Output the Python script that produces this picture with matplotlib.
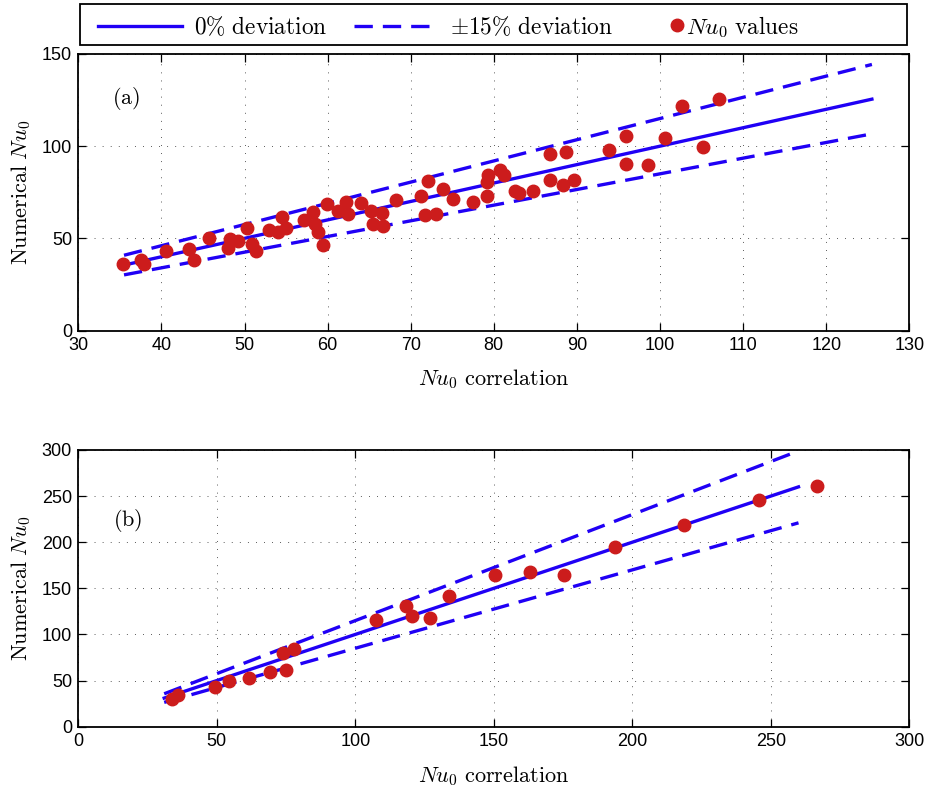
import numpy as np
import matplotlib
matplotlib.use("Agg")
import matplotlib.pyplot as plt
from matplotlib.lines import Line2D
from matplotlib.patches import Rectangle

# panel (a) data: Nu0 correlation vs numerical Nu0
corr_a = [35.4, 37.6, 37.9, 40.5, 43.3, 43.9, 45.7, 48.3, 48.0, 49.2,
          50.3, 50.9, 51.4, 52.9, 54.0, 54.5, 55.0, 57.1, 58.3, 58.5,
          58.8, 59.5, 59.9, 61.2, 62.2, 62.4, 64.0, 65.2, 66.5, 65.5,
          66.7, 68.2, 71.2, 72.1, 71.7, 73.1, 73.9, 75.1, 77.5, 79.2,
          79.3, 79.2, 80.8, 81.2, 82.6, 83.0, 84.7, 86.8, 86.8, 88.3,
          88.7, 89.6, 93.9, 95.9, 95.9, 98.5, 100.6, 102.6, 105.2, 107.1]
num_a = [35.9, 38.0, 35.9, 42.9, 44.4, 38.4, 50.4, 49.5, 44.7, 48.4,
         55.6, 47.1, 43.3, 54.7, 53.6, 61.4, 55.6, 60.2, 64.3, 58.0,
         53.6, 46.6, 68.9, 65.1, 69.6, 63.4, 69.2, 65.1, 64.0, 57.8,
         56.7, 70.8, 73.2, 81.1, 62.5, 63.2, 76.8, 71.6, 69.9, 72.7,
         84.2, 80.6, 87.1, 84.4, 75.5, 74.8, 75.7, 95.5, 81.7, 79.0,
         96.6, 81.5, 98.0, 105.4, 90.2, 89.7, 104.5, 121.7, 99.3, 125.5]

# panel (b) data
corr_b = [33.9, 35.9, 49.2, 54.5, 61.7, 69.1, 75.0, 73.8, 77.8, 107.4,
          118.2, 120.5, 126.9, 133.8, 150.3, 163.2, 175.5, 193.6, 218.6,
          245.9, 266.5]
num_b = [30.4, 34.8, 43.0, 49.5, 53.2, 59.3, 61.9, 79.6, 84.3, 115.4,
         130.6, 120.1, 117.9, 141.8, 164.6, 167.5, 164.6, 194.3, 218.2,
         245.3, 260.5]

line_range_a = [35.5, 125.5]
line_range_b = [31.0, 260.0]
deviation = 0.15

plt.rcParams['mathtext.fontset'] = 'cm'
plt.rcParams['font.family'] = 'Liberation Sans'

blue = '#2000f5'
red = '#cc1c1c'
dash = (5.5, 3.0)
lw = 2.4
ms = 9

fig = plt.figure(figsize=(9.29, 7.86), dpi=100)
ax_a = fig.add_axes([0.0843, 0.5795, 0.8945, 0.3518])
ax_b = fig.add_axes([0.0843, 0.0755, 0.8945, 0.3520])


def draw_panel(ax, corr, num, rng):
    xs = np.array(rng)
    ax.plot(xs, xs, color=blue, lw=lw)
    ax.plot(xs, xs * (1 + deviation), color=blue, lw=lw, dashes=dash)
    ax.plot(xs, xs * (1 - deviation), color=blue, lw=lw, dashes=dash)
    ax.plot(corr, num, 'o', color=red, ms=ms, mec=red)
    ax.grid(True, color='#333333', linestyle=(0, (0.8, 7.5)), lw=0.7)
    ax.tick_params(direction='in', top=True, right=True, labelsize=13,
                   length=6, width=0.9, pad=4.5)
    for s in ax.spines.values():
        s.set_linewidth(1.3)
    ax.set_xlabel(r'$Nu_0\ \mathrm{correlation}$', fontsize=16, labelpad=10)
    ax.set_ylabel(r'$\mathrm{Numerical}\ Nu_0$', fontsize=16, labelpad=6)


draw_panel(ax_a, corr_a, num_a, line_range_a)
ax_a.set_xlim(30, 130)
ax_a.set_ylim(0, 150)
ax_a.set_xticks(np.arange(30, 131, 10))
ax_a.set_yticks([0, 50, 100, 150])
ax_a.text(35.7, 126, r'$\mathrm{(a)}$', fontsize=16, ha='center', va='center')

draw_panel(ax_b, corr_b, num_b, line_range_b)
ax_b.set_xlim(0, 300)
ax_b.set_ylim(0, 300)
ax_b.set_xticks(np.arange(0, 301, 50))
ax_b.set_yticks(np.arange(0, 301, 50))
ax_b.text(18, 224, r'$\mathrm{(b)}$', fontsize=16, ha='center', va='center')

# legend box on top of the figure
fig.add_artist(Rectangle((80 / 929, 1 - 45 / 786), 827 / 929, 41 / 786,
                         transform=fig.transFigure, fill=False,
                         edgecolor='black', lw=1.3))
yc = 1 - 27 / 786
h_solid = Line2D([], [], color=blue, lw=lw)
h_dash = Line2D([], [], color=blue, lw=lw, dashes=dash)
h_dot = Line2D([], [], marker='o', color=red, ms=ms, ls='none')
leg1 = fig.legend([h_solid, h_dash],
                  [r'$0\%\ \mathrm{deviation}$', r'$\pm15\%\ \mathrm{deviation}$'],
                  loc='center left', bbox_to_anchor=(98 / 929, yc), ncol=2,
                  fontsize=16.8, handlelength=3.6, handletextpad=0.5,
                  columnspacing=1.16, frameon=False, borderpad=0,
                  borderaxespad=0)
leg2 = fig.legend([h_dot], [r'$Nu_0\ \mathrm{values}$'],
                  loc='center left', bbox_to_anchor=(670 / 929, yc),
                  fontsize=16.8, handlelength=0.6, handletextpad=0.1,
                  numpoints=1, frameon=False, borderpad=0, borderaxespad=0)

fig.savefig('out.png', dpi=100)
